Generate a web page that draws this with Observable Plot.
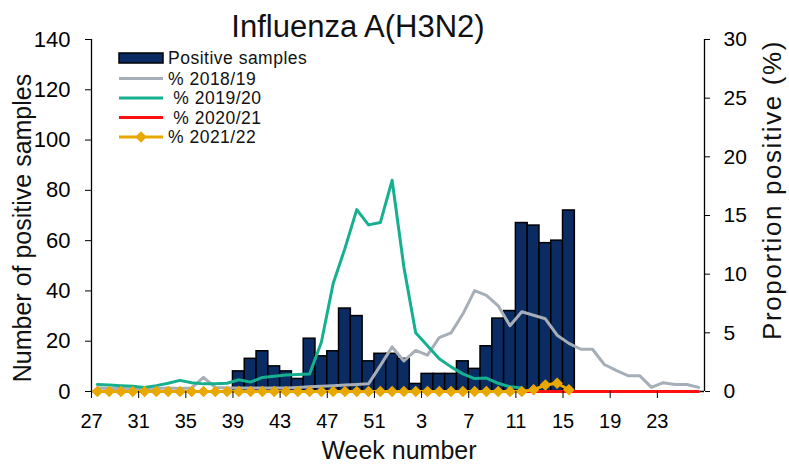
<!DOCTYPE html>
<html>
<head>
<meta charset="utf-8">
<script src="https://cdn.jsdelivr.net/npm/d3@7"></script>
<script src="https://cdn.jsdelivr.net/npm/@observablehq/plot@0.6"></script>
<style>
  html, body { margin: 0; padding: 0; background: #fff; }
  #chart svg { display: block; }
</style>
</head>
<body>
<div id="chart"></div>
<script>
// Season weeks (week 27 of one year to week 26 of the next)
const weeks = [27,28,29,30,31,32,33,34,35,36,37,38,39,40,41,42,43,44,45,46,47,48,49,50,51,52,
               1,2,3,4,5,6,7,8,9,10,11,12,13,14,15,16,17,18,19,20,21,22,23,24,25,26];

// Positive samples 2021/22 (bars), weeks 39..52, 1..15
const barWeeks = [39,40,41,42,43,44,45,46,47,48,49,50,51,52,1,2,3,4,5,6,7,8,9,10,11,12,13,14,15];
const positives = [8,13,16,10,8,5,21,14,16,33,30,12,15,15,13,3,7,7,7,12,9,18,29,32,67,66,59,60,72];

// Proportion positive (%) per season, starting at week 27
const pct1819 = [0.3,0.25,0.25,0.2,0.2,0.25,0.3,0.25,0.3,1.2,0.35,0.3,0.3,0.3,0.3,0.3,0.3,0.35,0.4,0.45,0.5,0.55,0.6,
                 0.65,2.2,3.8,2.6,3.5,3.1,4.6,5.0,6.6,8.6,8.2,7.3,5.6,6.8,6.5,6.2,4.8,4.1,3.6,3.6,2.3,1.8,1.35,1.35,
                 0.35,0.75,0.6,0.6,0.35];
const pct1920 = [0.6,0.55,0.5,0.45,0.35,0.5,0.7,0.95,0.75,0.65,0.65,0.7,1.0,0.8,1.2,1.3,1.4,1.45,1.5,4.2,9.2,
                 12.2,15.5,14.2,14.4,18.0,10.6,5.0,3.9,2.8,2.1,1.5,1.1,1.15,0.7,0.4,0.3];
const pct2021 = [0,0,0,0,0,0,0,0,0,0,0,0,0,0,0,0,0,0,0,0,0,0,0,0,0,0,
                 0,0,0,0,0,0,0,0,0,0,0,0,0,0,0,0,0,0,0,0,0,0,0,0,0,0];
const pct2122 = [0,0,0,0,0,0,0,0,0,0,0,0,0,0,0,0,0,0,0,0,0,0,0,0,0,0,
                 0,0,0,0,0,0,0,0,0,0,0,0.15,0.55,0.7,0.15];

// Tick labels
const xTickWeeks = [27,31,35,39,43,47,51,3,7,11,15,19,23];
const leftTicks = [0,20,40,60,80,100,120,140];
const rightTicks = [0,5,10,15,20,25,30];

const title = "Influenza A(H3N2)";
const xLabel = "Week number";
const yLabelLeft = "Number of positive samples";
const yLabelRight = "Proportion positive (%)";
const legendLabels = ["Positive samples", "% 2018/19", " % 2019/20", " % 2020/21", "% 2021/22"];

// Colours
const NAVY = "#0b2c63", GREY = "#a6aeb7", GREEN = "#16b08f", RED = "#ff1010", GOLD = "#e9a800";

const LEFT_MAX = 140, RIGHT_MAX = 30;
const K = LEFT_MAX / RIGHT_MAX; // percent -> left-scale units

const barData = barWeeks.map((w, j) => ({i: weeks.indexOf(w), v: positives[j]}));
const series = (arr) => arr.map((p, k) => ({i: k, p}));

const lineOpts = (color) => ({x: d => d.i + 0.5, y: d => d.p * K, stroke: color, strokeWidth: 3, curve: "linear"});

const FONT = "'Liberation Sans', Arial, sans-serif";

const chart = Plot.plot({
  width: 789,
  height: 464,
  marginLeft: 91,
  marginRight: 85,
  marginTop: 39,
  marginBottom: 73,
  style: {fontFamily: FONT, fontSize: "20px", color: "#000", background: "#fff", overflow: "visible"},
  x: {type: "linear", domain: [0, 52]},
  y: {domain: [0, LEFT_MAX]},
  marks: [
    Plot.rectY(barData, {x1: d => d.i, x2: d => d.i + 1, y: "v", fill: NAVY, stroke: "#000", strokeWidth: 1.5, inset: 0}),
    Plot.ruleY([0], {stroke: "#000", strokeWidth: 1.3}),
    Plot.ruleX([0], {stroke: "#000", strokeWidth: 1.3}),
    Plot.ruleX([52], {stroke: "#000", strokeWidth: 1.3}),
    Plot.line(series(pct1819), lineOpts(GREY)),
    Plot.line(series(pct1920), lineOpts(GREEN)),
    Plot.line(series(pct2021), lineOpts(RED)),
    Plot.line(series(pct2122), lineOpts(GOLD)),
    Plot.dot(series(pct2122), {x: d => d.i + 0.5, y: d => d.p * K, symbol: "diamond2", r: 5.2, fill: GOLD, stroke: null}),
    Plot.axisX({
      ticks: xTickWeeks.map(w => weeks.indexOf(w)),
      tickFormat: i => weeks[i],
      tickSize: 7, tickPadding: 15, label: null, fontSize: 20
    }),
    Plot.axisY({
      anchor: "left", ticks: leftTicks, tickSize: 6, tickPadding: 15, label: null, fontSize: 22
    }),
    Plot.axisY({
      anchor: "right", ticks: rightTicks.map(t => t * K), tickFormat: d => Math.round(d / K),
      tickSize: 5, tickPadding: 14, label: null, fontSize: 21
    })
  ]
});

const svg = d3.select(chart);

// Title and axis titles
const T = svg.append("g").attr("font-family", FONT).attr("fill", "#111").attr("text-anchor", "middle");
T.append("text").attr("x", 358).attr("y", 37).attr("font-size", 31).text(title);
T.append("text").attr("x", 399).attr("y", 459).attr("font-size", 25).text(xLabel);
T.append("text").attr("transform", "translate(31,228) rotate(-90)").attr("font-size", 25).text(yLabelLeft);
T.append("text").attr("transform", "translate(781,190) rotate(-90)").attr("font-size", 26)
  .attr("letter-spacing", 1.6).text(yLabelRight);

// Legend
const lg = svg.append("g").attr("font-family", FONT).attr("font-size", 17.5).attr("fill", "#111")
  .attr("text-anchor", "start").attr("letter-spacing", 0.5);
const rowY = [58, 78.5, 98, 117.5, 137];
lg.append("rect").attr("x", 119).attr("y", rowY[0] - 5).attr("width", 44).attr("height", 10)
  .attr("fill", NAVY).attr("stroke", "#000").attr("stroke-width", 1.5);
[GREY, GREEN, RED, GOLD].forEach((c, j) => {
  lg.append("line").attr("x1", 119).attr("x2", 163).attr("y1", rowY[j + 1]).attr("y2", rowY[j + 1])
    .attr("stroke", c).attr("stroke-width", 3);
});
lg.append("path").attr("d", d3.symbol(d3.symbolDiamond2, Math.PI * 5.2 * 5.2)())
  .attr("transform", `translate(141,${rowY[4]})`).attr("fill", GOLD);
legendLabels.forEach((t, j) => {
  lg.append("text").attr("x", 168).attr("y", rowY[j] + 6).attr("xml:space", "preserve")
    .style("white-space", "pre").text(t);
});

document.getElementById("chart").appendChild(chart);
</script>
</body>
</html>
